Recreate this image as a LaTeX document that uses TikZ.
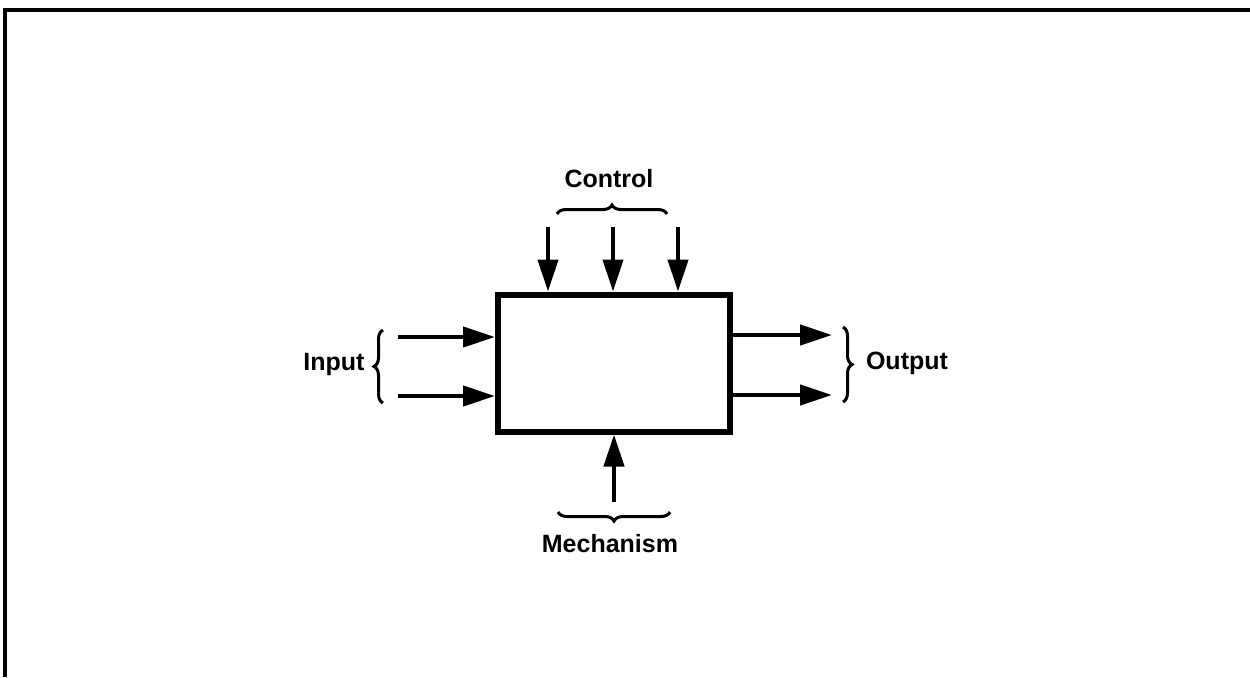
\documentclass[tikz,border=0pt]{standalone}
\usepackage{fontspec}
\setmainfont{Liberation Sans}
\usetikzlibrary{arrows.meta,decorations.pathreplacing}
\begin{document}
\begin{tikzpicture}[x=0.5pt,y=-0.5pt,
  arr/.style={line width=2.2pt,-{Triangle[length=16pt,width=10pt]}},
  br/.style={line width=1.5pt,decorate,decoration={brace,amplitude=4.5pt}},
  lbl/.style={font=\fontsize{12.5}{15}\selectfont\bfseries,inner sep=0pt},
  frame/.style={line width=2pt}]
\useasboundingbox (0,0) rectangle (1250,677);
\draw[frame] (5,677) -- (5,10) -- (1250,10);
\node[draw,line width=3pt,minimum width=116pt,minimum height=68.5pt,inner sep=0pt] (box) at (614,363) {};
% input
\coordinate (i1) at (398,337);
\coordinate (i2) at (398,396);
\draw[arr] (i1) -- (i1 -| box.west);
\draw[arr] (i2) -- (i2 -| box.west);
\coordinate (ib1) at (383,403);
\coordinate (ib2) at (383,330);
\draw[br] (ib1) -- (ib2);
\node[lbl] (input) at (334,364) {Input};
% output
\coordinate (o1) at (832,335);
\coordinate (o2) at (832,395);
\draw[arr] (o1 -| box.east) -- (o1);
\draw[arr] (o2 -| box.east) -- (o2);
\coordinate (ob1) at (843,327);
\coordinate (ob2) at (843,402);
\draw[br] (ob1) -- (ob2);
\node[lbl] (output) at (907,363) {Output};
% control
\coordinate (c1) at (548,227);
\coordinate (c2) at (613,227);
\coordinate (c3) at (678,227);
\draw[arr] (c1) -- (c1 |- box.north);
\draw[arr] (c2) -- (c2 |- box.north);
\draw[arr] (c3) -- (c3 |- box.north);
\coordinate (cb1) at (557,214);
\coordinate (cb2) at (667,214);
\draw[br] (cb1) -- (cb2);
\node[lbl] (control) at (609,179) {Control};
% mechanism
\coordinate (m) at (614,502);
\draw[arr] (m) -- (m |- box.south);
\coordinate (mb1) at (670,512);
\coordinate (mb2) at (558,512);
\draw[br] (mb1) -- (mb2);
\node[lbl] (mech) at (610,544) {Mechanism};
\end{tikzpicture}
\end{document}
